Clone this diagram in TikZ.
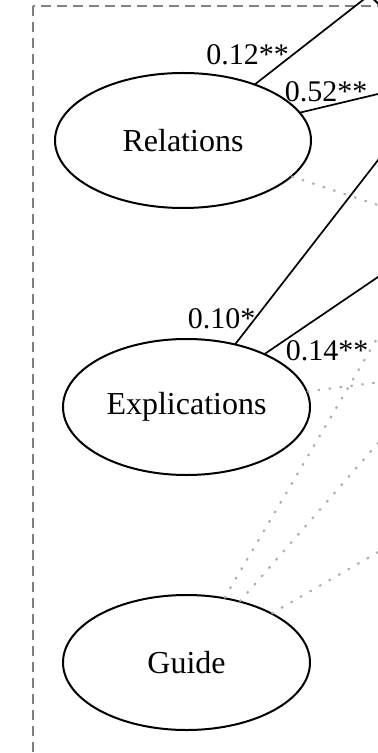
\documentclass[tikz,border=0pt]{standalone}
\usepackage{fontspec}
\setmainfont{Liberation Serif}
\usetikzlibrary{shapes.geometric}
\begin{document}
\begin{tikzpicture}[
  x=0.5pt, y=-0.5pt,
  font=\fontsize{16}{19}\selectfont,
  latent/.style={draw, ellipse, line width=1pt, inner sep=0pt, outer sep=0pt, minimum height=67.5pt},
  path/.style={line width=0.85pt},
  nopath/.style={gray!65, line width=1pt, dash pattern=on 1.2pt off 4.3pt},
  coef/.style={font=\fontsize{15}{18}\selectfont, inner sep=0pt, anchor=base west},
  frame/.style={gray, line width=1pt, dash pattern=on 5pt off 3pt}
]
\useasboundingbox (0,0) rectangle (378,753);
\clip (0,0) rectangle (378,753);
\draw[frame] (33,6) rectangle (800,1000);
\node[latent, minimum width=128pt]   (rel)   at (183,140.5) {Relations};
\node[latent, minimum width=123.5pt, minimum height=68pt] (expl) at (186.5,407) {Explications};
\node[latent, minimum width=123.5pt] (guide) at (186.5,662.5) {Guide};
\node[latent, minimum width=123pt, minimum height=68pt] (outer) at (484,-31) {};
\coordinate (t1) at (370,-5.5);
\coordinate (t2) at (420,84);
\coordinate (t3) at (420,219);
\coordinate (t4) at (420,106);
\coordinate (t5) at (420,248.5);
\coordinate (t6) at (420,377);
\coordinate (t7) at (420,265.5);
\coordinate (t8) at (420,395);
\coordinate (t9) at (420,528);
\draw[path] (rel) -- (t1);
\draw[path] (rel) -- (t2);
\draw[nopath] (rel) -- (t3);
\draw[path] (expl) -- (t4);
\draw[path] (expl) -- (t5);
\draw[nopath] (expl) -- (t6);
\draw[nopath] (guide) -- (t7);
\draw[nopath] (guide) -- (t8);
\draw[nopath] (guide) -- (t9);
\node[coef] (c1) at (206,65) {0.12**};
\node[coef] (c2) at (284.5,101.5) {0.52**};
\node[coef] (c3) at (187.5,328) {0.10*};
\node[coef] (c4) at (285.5,360) {0.14**};
\end{tikzpicture}
\end{document}
